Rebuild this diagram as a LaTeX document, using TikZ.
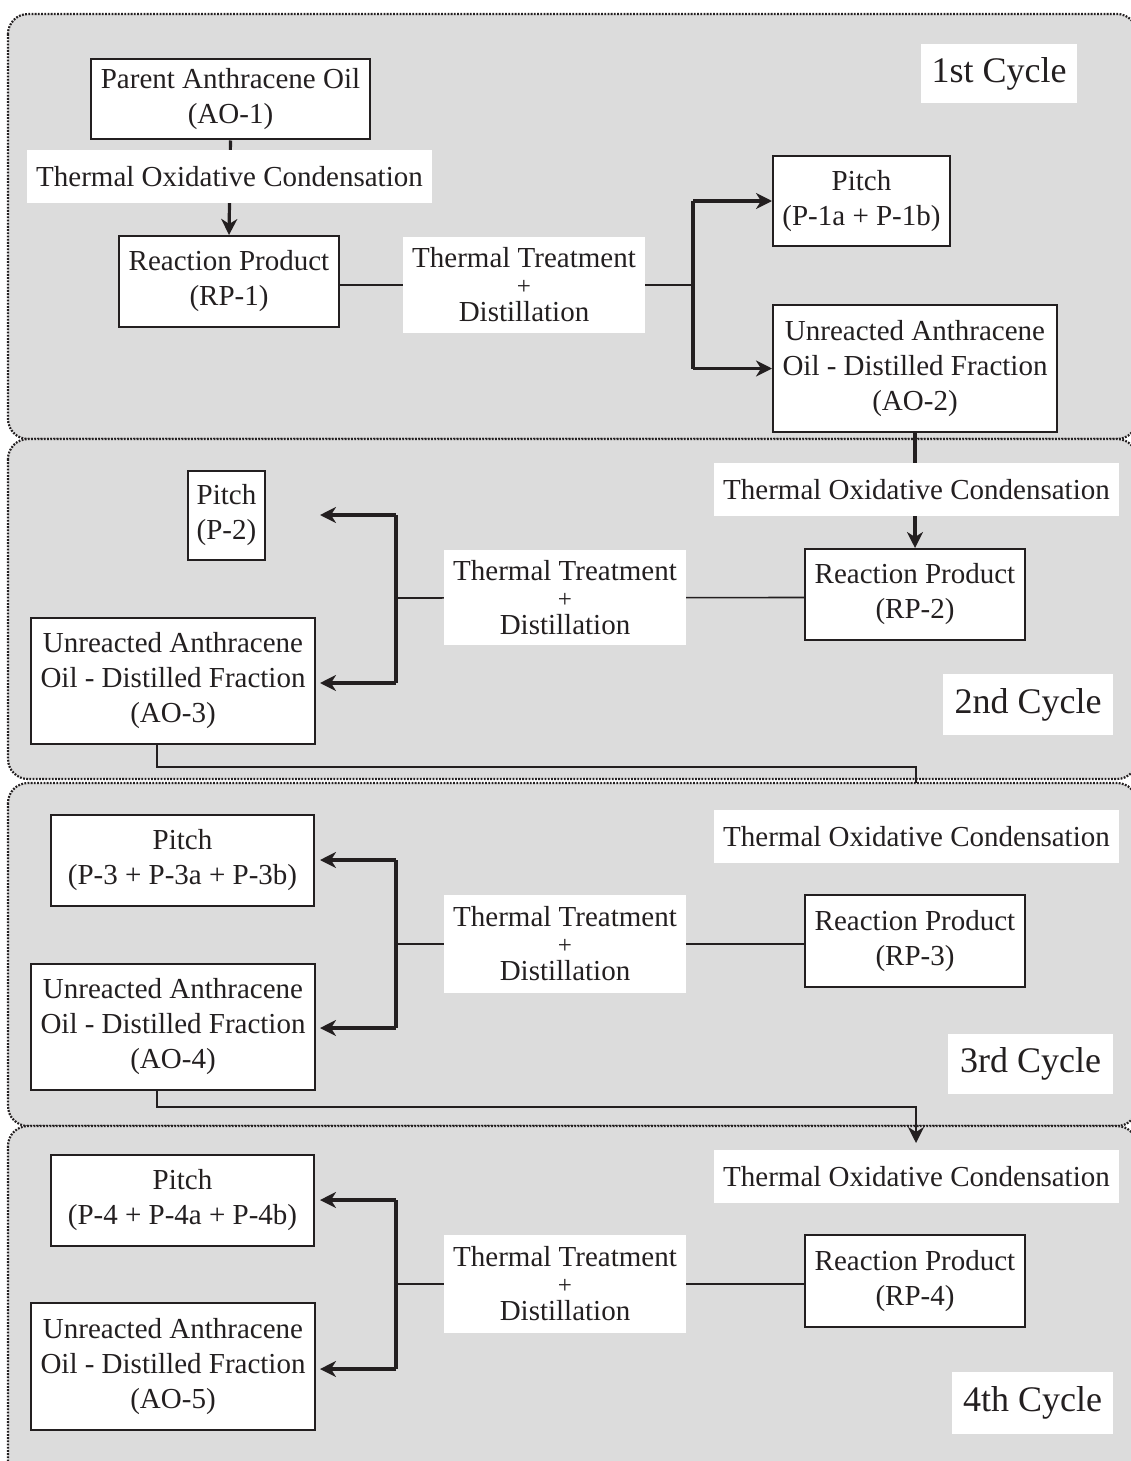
\documentclass[tikz,border=0pt]{standalone}
\usepackage{fontspec}
\setmainfont{Liberation Serif}
\usetikzlibrary{arrows.meta}
\pgfdeclarelayer{bg}
\pgfdeclarelayer{mid}
\pgfsetlayers{bg,mid,main}
\definecolor{panelgray}{RGB}{220,220,220}
\definecolor{ink}{RGB}{35,31,32}
\tikzset{
  panel/.style={draw=ink, fill=panelgray, line width=1.1pt, dash pattern=on 0.9pt off 0.7pt, rounded corners=10pt},
  box/.style={draw=ink, fill=white, line width=1pt, align=center, inner sep=0pt, text=ink,
    font=\fontsize{14.5}{17.5}\selectfont},
  lbl/.style={fill=white, align=center, inner sep=0pt, text=ink,
    font=\fontsize{14.5}{13.5}\selectfont},
  cyc/.style={fill=white, inner sep=0pt, text=ink, font=\fontsize{18}{20}\selectfont},
  wh/.style 2 args={minimum width={#1*0.5pt}, minimum height={#2*0.5pt}},
  thinln/.style={draw=ink, line width=0.8pt},
  brk/.style={draw=ink, line width=1.6pt},
  arr/.style={draw=ink, line width=1.6pt, -{Stealth[length=8pt, width=8pt, inset=2.5pt]}},
  lnk/.style={draw=ink, line width=1.1pt},
  lnkarr/.style={draw=ink, line width=1.3pt, -{Stealth[length=8pt, width=8pt, inset=2.5pt]}},
}
\newcommand{\TTD}{Thermal Treatment\\{\fontsize{12.5}{13.5}\selectfont +}\\Distillation}
\newcommand{\UAO}[1]{Unreacted Anthracene\\Oil - Distilled Fraction\\(#1)}
\begin{document}
\begin{tikzpicture}[x=0.5pt, y=-0.5pt]
\useasboundingbox (0,0) rectangle (1130,1461);
\begin{pgfonlayer}{bg}
  \draw[panel] (8,14) rectangle (1137,439);
  \draw[panel] (8,439) rectangle (1137,779);
  \draw[panel] (8,783) rectangle (1137,1126);
  \draw[panel] (8,1126) rectangle (1137,1480);
\end{pgfonlayer}

% ---------- 1st cycle ----------
\node[box, wh={279}{80}] (ao1) at (230.5,99.5) {Parent Anthracene Oil\\(AO-1)};
\node[lbl, wh={405}{53}] (toc1) at (229.5,176.5) {Thermal Oxidative Condensation};
\node[box, wh={220}{91}] (rp1) at (229,281.5) {Reaction Product\\(RP-1)};
\node[lbl, wh={242}{96}] (tt1) at (524,285) {\TTD};
\node[box, wh={177}{90}] (p1) at (861.5,201) {Pitch\\(P-1a + P-1b)};
\node[box, wh={284}{127}] (ao2) at (915,368.5) {\UAO{AO-2}};
\node[cyc, wh={156}{59}] (cy1) at (999,73.5) {1st Cycle};
\coordinate (j1) at (693,285);

% ---------- 2nd cycle ----------
\node[lbl, wh={405}{53}] (toc2) at (916.5,489.5) {Thermal Oxidative Condensation};
\node[box, wh={220}{91}] (rp2) at (915,594.5) {Reaction Product\\(RP-2)};
\node[lbl, wh={242}{95}] (tt2) at (565,597.5) {\TTD};
\node[box, wh={77}{89}] (p2) at (226.5,515.5) {Pitch\\(P-2)};
\node[box, wh={284}{126}] (ao3) at (173,681) {\UAO{AO-3}};
\node[cyc, wh={170}{61}] (cy2) at (1028,704.5) {2nd Cycle};
\coordinate (j2) at (396,598);
\coordinate (t2a) at (320,515);
\coordinate (t2b) at (320,683);
\coordinate (k3) at (157,767);
\coordinate (e3) at (916,783);

% ---------- 3rd cycle ----------
\node[lbl, wh={405}{53}] (toc3) at (916.5,836.5) {Thermal Oxidative Condensation};
\node[box, wh={220}{92}] (rp3) at (915,941) {Reaction Product\\(RP-3)};
\node[lbl, wh={242}{98}] (tt3) at (565,944) {\TTD};
\node[box, wh={263}{91}] (p3) at (182.5,860.5) {Pitch\\(P-3 + P-3a + P-3b)};
\node[box, wh={284}{126}] (ao4) at (173,1027) {\UAO{AO-4}};
\node[cyc, wh={165}{60}] (cy3) at (1030.5,1064) {3rd Cycle};
\coordinate (j3) at (396,944);
\coordinate (t3a) at (320,860);
\coordinate (t3b) at (320,1028);
\coordinate (k4) at (157,1107);
\coordinate (e4) at (916,1143);

% ---------- 4th cycle ----------
\node[lbl, wh={405}{53}] (toc4) at (916.5,1176.5) {Thermal Oxidative Condensation};
\node[box, wh={220}{92}] (rp4) at (915,1281) {Reaction Product\\(RP-4)};
\node[lbl, wh={242}{98}] (tt4) at (565,1284) {\TTD};
\node[box, wh={263}{91}] (p4) at (182.5,1200.5) {Pitch\\(P-4 + P-4a + P-4b)};
\node[box, wh={284}{127}] (ao5) at (173,1366.5) {\UAO{AO-5}};
\node[cyc, wh={161}{62}] (cy4) at (1032.5,1403) {4th Cycle};
\coordinate (j4) at (396,1284);
\coordinate (t4a) at (320,1200);
\coordinate (t4b) at (320,1369);

\begin{pgfonlayer}{mid}
  % cycle 1
  \draw[arr] (ao1.south) -- (rp1.north);
  \draw[thinln] (rp1.east |- tt1) -- (j1);
  \draw[brk] (p1.west -| j1) -- (ao2.west -| j1);
  \draw[arr] (p1.west -| j1) -- (p1.west);
  \draw[arr] (ao2.west -| j1) -- (ao2.west);
  % cycle 2
  \draw[arr] (ao2.south) -- (rp2.north);
  \draw[thinln] (rp2.west |- tt2) -- (j2);
  \draw[brk] (t2a -| j2) -- (t2b -| j2);
  \draw[arr] (t2a -| j2) -- (t2a);
  \draw[arr] (t2b -| j2) -- (t2b);
  \draw[lnk] (ao3.south -| k3) -- (k3) -| (e3);
  % cycle 3
  \draw[thinln] (rp3.west |- tt3) -- (j3);
  \draw[brk] (t3a -| j3) -- (t3b -| j3);
  \draw[arr] (t3a -| j3) -- (t3a);
  \draw[arr] (t3b -| j3) -- (t3b);
  \draw[lnkarr] (ao4.south -| k4) -- (k4) -| (e4);
  % cycle 4
  \draw[thinln] (rp4.west |- tt4) -- (j4);
  \draw[brk] (t4a -| j4) -- (t4b -| j4);
  \draw[arr] (t4a -| j4) -- (t4a);
  \draw[arr] (t4b -| j4) -- (t4b);
\end{pgfonlayer}
\end{tikzpicture}
\end{document}
